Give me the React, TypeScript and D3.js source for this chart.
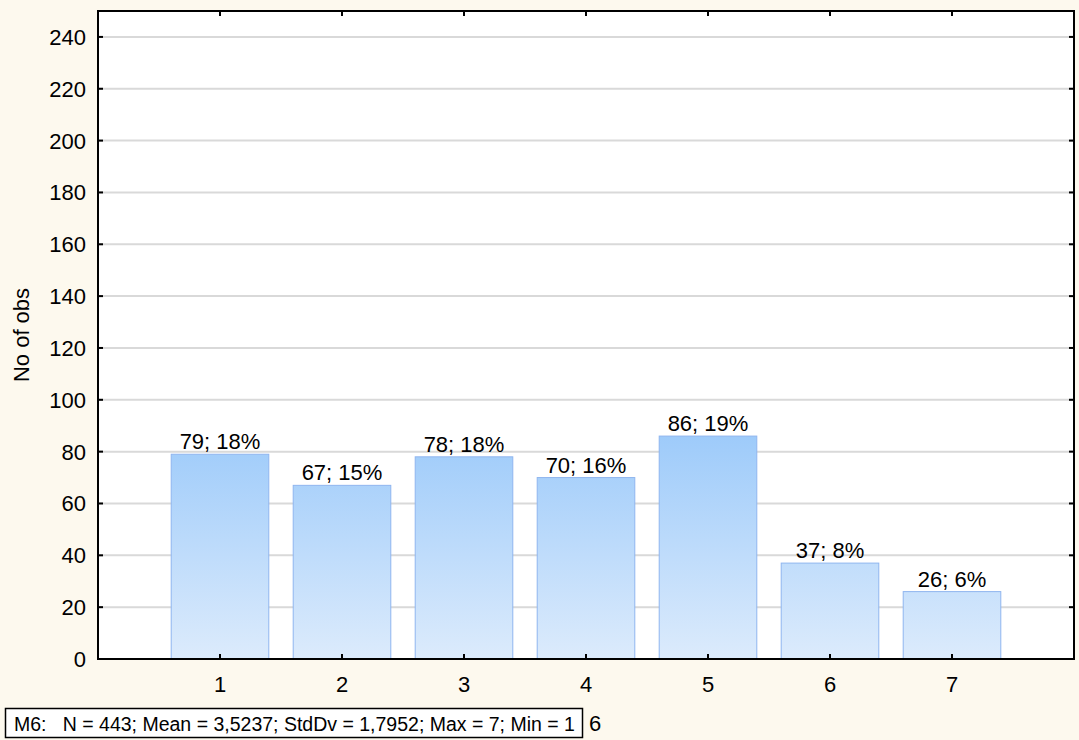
import React from "react";
import * as d3 from "d3";

const categories = [1, 2, 3, 4, 5, 6, 7];
const counts = [79, 67, 78, 70, 86, 37, 26];
const percents = [18, 15, 18, 16, 19, 8, 6];
const yTicks = [0, 20, 40, 60, 80, 100, 120, 140, 160, 180, 200, 220, 240];
const yLabel = "No of obs";
const footnote = "M6:   N = 443; Mean = 3,5237; StdDv = 1,7952; Max = 7; Min = 1";
const footnoteTail = "6";

const W = 1079;
const H = 740;
const M = { left: 98, right: 1074, top: 11, bottom: 659 };
const FONT = "'Liberation Sans', Arial, sans-serif";

export default function App() {
  const x = d3.scaleLinear().domain([0, 8]).range([M.left, M.right]);
  const y = d3.scaleLinear().domain([0, 250]).range([M.bottom, M.top]);
  const step = x(1) - x(0);
  const bw = step * 0.8;
  const maxV = d3.max(counts) as number;
  const tick = 5;

  return (
    <svg
      width={W}
      height={H}
      style={{ position: "absolute", left: 0, top: 0, display: "block" }}
      fontFamily={FONT}
    >
      <defs>
        <linearGradient
          id="barGrad"
          gradientUnits="userSpaceOnUse"
          x1={0}
          x2={0}
          y1={y(0)}
          y2={y(maxV)}
        >
          <stop offset="0%" stopColor="#dcebfc" />
          <stop offset="100%" stopColor="#9ecbfa" />
        </linearGradient>
      </defs>
      <rect x={0} y={0} width={W} height={H} fill="#fdf9ee" />
      <rect
        x={M.left}
        y={M.top}
        width={M.right - M.left}
        height={M.bottom - M.top}
        fill="#ffffff"
      />
      {yTicks
        .filter((t) => t > 0)
        .map((t) => (
          <line
            key={"g" + t}
            x1={M.left}
            x2={M.right}
            y1={y(t)}
            y2={y(t)}
            stroke="#d9d9d9"
            strokeWidth={2}
          />
        ))}
      {categories.map((c, i) => (
        <g key={"b" + c}>
          <rect
            x={x(c) - bw / 2}
            y={y(counts[i])}
            width={bw}
            height={y(0) - y(counts[i])}
            fill="url(#barGrad)"
            stroke="#8fb5ef"
            strokeWidth={1}
          />
          <text
            x={x(c)}
            y={y(counts[i]) - 5}
            textAnchor="middle"
            fontSize={22}
            fill="#000"
          >
            {`${counts[i]}; ${percents[i]}%`}
          </text>
        </g>
      ))}
      {yTicks.map((t) => (
        <g key={"t" + t}>
          <line x1={M.left} x2={M.left + tick} y1={y(t)} y2={y(t)} stroke="#000" strokeWidth={2} />
          <line x1={M.right} x2={M.right - tick} y1={y(t)} y2={y(t)} stroke="#000" strokeWidth={2} />
          <text x={86} y={y(t)} dy="0.36em" textAnchor="end" fontSize={22} fill="#000">
            {t}
          </text>
        </g>
      ))}
      {categories.map((c) => (
        <g key={"xt" + c}>
          <line x1={x(c)} x2={x(c)} y1={M.bottom} y2={M.bottom - tick} stroke="#000" strokeWidth={2} />
          <line x1={x(c)} x2={x(c)} y1={M.top} y2={M.top + tick} stroke="#000" strokeWidth={2} />
          <text x={x(c)} y={692} textAnchor="middle" fontSize={22} fill="#000">
            {c}
          </text>
        </g>
      ))}
      <rect
        x={M.left}
        y={M.top}
        width={M.right - M.left}
        height={M.bottom - M.top}
        fill="none"
        stroke="#000"
        strokeWidth={2}
      />
      <text
        transform={`translate(29,${(M.top + M.bottom) / 2}) rotate(-90)`}
        textAnchor="middle"
        fontSize={22}
        fill="#000"
      >
        {yLabel}
      </text>
      <rect x={5.5} y={708.5} width={577} height={29} fill="#ffffff" stroke="#000" strokeWidth={1.5} />
      <text x={14} y={731} fontSize={19.5} fill="#000" style={{ whiteSpace: "pre" }}>
        {footnote}
      </text>
      <text x={589} y={731} fontSize={22} fill="#000">
        {footnoteTail}
      </text>
    </svg>
  );
}
